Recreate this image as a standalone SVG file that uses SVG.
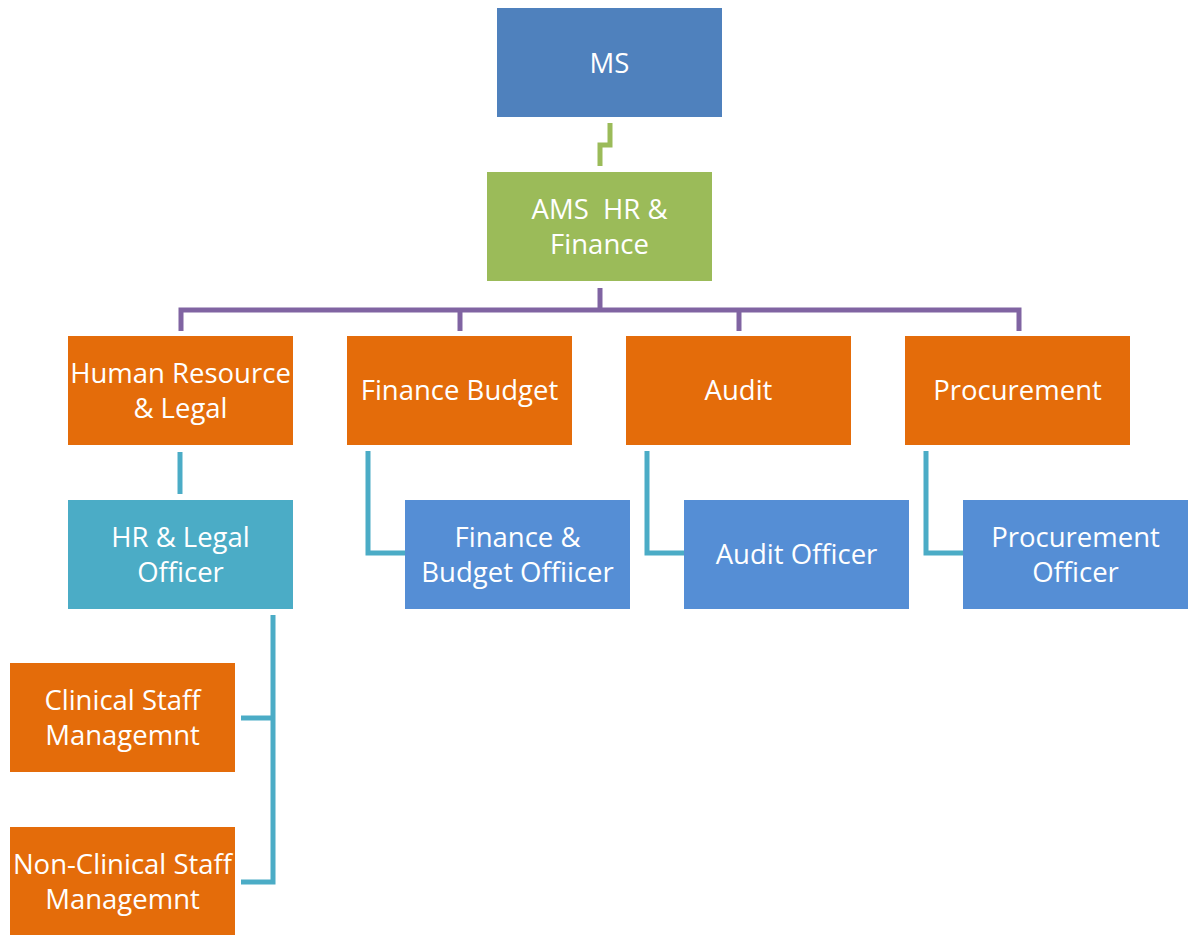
<svg xmlns="http://www.w3.org/2000/svg" width="1199" height="935" viewBox="0 0 1199 935">
<style>
.t{font-family:"Open Sans","Liberation Sans",sans-serif;font-size:27.5px;fill:#fff;text-anchor:middle}
.blue{fill:#4F81BD}
.green{fill:#9BBB59}
.orange{fill:#E46C0A}
.teal{fill:#4BACC6}
.lblue{fill:#558ED5}
.c{fill:none;stroke-width:5;stroke-linejoin:miter}
.cg{stroke:#9BBB59}
.cp{stroke:#8064A2}
.ct{stroke:#4BACC6}
</style>
<rect width="1199" height="935" fill="#fff"/>
<g id="connectors">
<polyline class="c cg" points="610,123 610,145 600,145 600,166"/>
<polyline class="c cp" points="600,288 600,310"/>
<polyline class="c cp" points="181,331 181,310 1019,310 1019,331"/>
<polyline class="c cp" points="460,331 460,310"/>
<polyline class="c cp" points="739,331 739,310"/>
<polyline class="c ct" points="180,452 180,494"/>
<polyline class="c ct" points="368,451 368,553 405,553"/>
<polyline class="c ct" points="647,451 647,553 684,553"/>
<polyline class="c ct" points="926,451 926,553 963,553"/>
<polyline class="c ct" points="241,718 273,718"/>
<polyline class="c ct" points="273,615 273,882 241,882"/>
</g>
<g id="ms"><rect class="blue" x="497" y="8" width="225" height="109"/><text class="t" x="609.5" y="73">MS</text></g>
<g id="ams"><rect class="green" x="487" y="172" width="225" height="109"/><text class="t" x="599.5" y="219" xml:space="preserve">AMS  HR &amp;</text><text class="t" x="599.5" y="254">Finance</text></g>
<g id="hr"><rect class="orange" x="68" y="336" width="225" height="109"/><text class="t" x="180.5" y="383">Human Resource</text><text class="t" x="180.5" y="418">&amp; Legal</text></g>
<g id="fb"><rect class="orange" x="347" y="336" width="225" height="109"/><text class="t" x="459.5" y="400">Finance Budget</text></g>
<g id="audit"><rect class="orange" x="626" y="336" width="225" height="109"/><text class="t" x="738.5" y="400">Audit</text></g>
<g id="proc"><rect class="orange" x="905" y="336" width="225" height="109"/><text class="t" x="1017.5" y="400">Procurement</text></g>
<g id="hrlo"><rect class="teal" x="68" y="500" width="225" height="109"/><text class="t" x="180.5" y="547">HR &amp; Legal</text><text class="t" x="180.5" y="582">Officer</text></g>
<g id="fbo"><rect class="lblue" x="405" y="500" width="225" height="109"/><text class="t" x="517.5" y="547">Finance &amp;</text><text class="t" x="517.5" y="582">Budget Offiicer</text></g>
<g id="ao"><rect class="lblue" x="684" y="500" width="225" height="109"/><text class="t" x="796.5" y="564">Audit Officer</text></g>
<g id="po"><rect class="lblue" x="963" y="500" width="225" height="109"/><text class="t" x="1075.5" y="547">Procurement</text><text class="t" x="1075.5" y="582">Officer</text></g>
<g id="csm"><rect class="orange" x="10" y="663" width="225" height="109"/><text class="t" x="122.5" y="710">Clinical Staff</text><text class="t" x="122.5" y="745">Managemnt</text></g>
<g id="ncsm"><rect class="orange" x="10" y="827" width="225" height="108"/><text class="t" x="122.5" y="874">Non-Clinical Staff</text><text class="t" x="122.5" y="909">Managemnt</text></g>
</svg>
